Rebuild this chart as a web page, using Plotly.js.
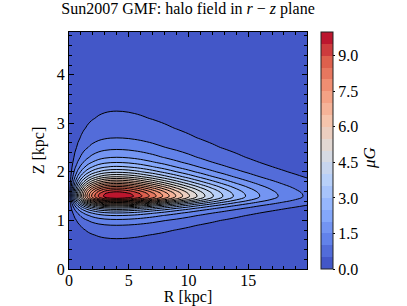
<!DOCTYPE html>
<html>
<head>
<meta charset="utf-8">
<script src="https://cdn.plot.ly/plotly-3.0.1.min.js"></script>
<style>html,body{margin:0;padding:0;background:#fff;}#chart{width:407px;height:306px;}</style>
</head>
<body>
<div id="chart"></div>
<script>
// Galactocentric radius samples [kpc]
const rValues = [0, 0.25, 0.5, 0.75, 1, 1.25, 1.5, 1.75, 2, 2.5, 3, 3.5, 4, 4.5, 5, 5.5,
  6, 7, 8, 9, 10, 11, 12, 13, 14, 15, 16, 17, 18, 19, 20];
// Relative radial profile of the halo field (peak = 1 at R ~ 4 kpc)
const radialProfile = [0, 0.160, 0.300, 0.423, 0.529, 0.622, 0.701, 0.768, 0.824, 0.909, 0.963, 0.992, 1.000, 0.993, 0.974, 0.945,
  0.910, 0.827, 0.736, 0.645, 0.558, 0.478, 0.406, 0.343, 0.287, 0.240, 0.199, 0.165, 0.136, 0.112, 0.092];
// Height samples [kpc]
const zValues = [0, 0.3, 0.5, 0.6, 0.7, 0.8, 0.9, 1.0, 1.1, 1.15, 1.2, 1.25, 1.3, 1.35, 1.375, 1.4, 1.425, 1.45, 1.475, 1.5,
  1.55, 1.6, 1.65, 1.7, 1.75, 1.8, 1.9, 2.0, 2.1, 2.2, 2.3, 2.5, 2.7, 2.9, 3.1, 3.3, 3.5, 4.0, 4.5, 5.0];
// Relative vertical profile (peak = 1 at Z ~ 1.5 kpc)
const verticalProfile = [0.0175, 0.0270, 0.0385, 0.0471, 0.0588, 0.0755, 0.100, 0.138, 0.200, 0.246, 0.308, 0.390, 0.500, 0.640, 0.719, 0.800, 0.877, 0.941, 0.985, 1.000,
  0.985, 0.941, 0.877, 0.800, 0.719, 0.640, 0.500, 0.390, 0.308, 0.246, 0.200, 0.138, 0.100, 0.0755, 0.0588, 0.0471, 0.0385, 0.0250, 0.0175, 0.0129];
// Peak field strength [muG]
const peakField = 10;
// colour levels of the map [muG]
const levelStart = 0, levelEnd = 10, levelStep = 0.5;
const colorbarTicks = [0, 1.5, 3, 4.5, 6, 7.5, 9];

// build the grid table from the profiles
const zGrid = zValues.map((_, i) => rValues.map((_, j) => peakField * verticalProfile[i] * radialProfile[j]));

// coolwarm colour map
const coolwarm = [[59,76,192],[98,130,234],[141,176,254],[184,208,249],[221,221,221],[245,196,172],[244,154,123],[222,96,77],[180,4,38]];
function cw(s) {
  const p = Math.max(0, Math.min(1, s)) * 8, i = Math.min(7, Math.floor(p)), f = p - i;
  const a = coolwarm[i], b = coolwarm[i + 1];
  return 'rgb(' + a.map((v, k) => Math.round(v + (b[k] - v) * f)).join(',') + ')';
}
const nBands = Math.round((levelEnd - levelStart) / levelStep);
// contour colorscale: band [L, L+step] coloured with coolwarm(mid/10); plotly maps t=(v-0.25)/9.5
const csContour = [];
for (let k = 0; k <= 40; k++) { const t = k / 40; const v = 0.25 + 9.5 * t; csContour.push([t, cw(v / levelEnd)]); }
// stepped colorscale for the colorbar
const csBar = [];
for (let i = 0; i < nBands; i++) { const c = cw((i + 0.5) / nBands); csBar.push([i / nBands, c]); csBar.push([(i + 1) / nBands, c]); }

const serif = 'Liberation Serif, Times New Roman, serif';
const trace = {
  type: 'contour', x: rValues, y: zValues, z: zGrid,
  colorscale: csContour, showscale: false,
  autocontour: false,
  contours: {start: levelStart + levelStep, end: levelEnd - levelStep, size: levelStep, coloring: 'fill'},
  line: {color: '#000', width: 1, smoothing: 1}
};
// colorbar holder (data lie outside the visible range)
const barTrace = {
  type: 'heatmap', x: [100, 101], y: [100, 101], z: [[levelStart, levelEnd], [levelStart, levelEnd]],
  zmin: levelStart, zmax: levelEnd, colorscale: csBar, hoverinfo: 'skip',
  colorbar: {
    x: 1.0588, xanchor: 'left', xpad: 0, ypad: 0, y: 0.5, yanchor: 'middle', len: 1, lenmode: 'fraction',
    thickness: 12, outlinewidth: 1, outlinecolor: '#222',
    tickvals: colorbarTicks, tickformat: '.1f', ticks: 'outside', ticklen: 2, tickcolor: '#000',
    tickfont: {family: serif, size: 16, color: '#000'}
  }
};
const layout = {
  width: 407, height: 306,
  margin: {l: 69, r: 100, t: 32, b: 37},
  paper_bgcolor: '#fff', plot_bgcolor: '#fff',
  title: {text: 'Sun2007 GMF: halo field in <i>r</i> − <i>z</i> plane', font: {family: serif, size: 16, color: '#000'},
    x: 0.4619, xanchor: 'center', y: 0.99, yanchor: 'top'},
  xaxis: {range: [0, 19.93], dtick: 5, tick0: 0, ticks: 'inside', ticklen: 5, tickcolor: '#000', showline: true, linecolor: '#000', linewidth: 1,
    mirror: 'allticks', showgrid: false, zeroline: false, tickfont: {family: serif, size: 16, color: '#000'}, ticklabelstandoff: -3,
    minor: {ticks: 'inside', dtick: 1, ticklen: 3, tickcolor: '#000', showgrid: false},
    title: {text: 'R [kpc]', font: {family: serif, size: 16, color: '#000'}, standoff: 4}},
  yaxis: {range: [0, 4.88], dtick: 1, tick0: 0, ticks: 'inside', ticklen: 5, tickcolor: '#000', showline: true, linecolor: '#000', linewidth: 1,
    mirror: 'allticks', showgrid: false, zeroline: false, tickfont: {family: serif, size: 16, color: '#000'},
    minor: {ticks: 'inside', dtick: 0.2, ticklen: 3, tickcolor: '#000', showgrid: false},
    title: {text: 'Z [kpc]', font: {family: serif, size: 16, color: '#000'}, standoff: 8}},
  annotations: [{text: '<i>μG</i>', xref: 'paper', yref: 'paper', x: 1.262, xanchor: 'center', y: 0.47, yanchor: 'middle', textangle: -90, showarrow: false,
    font: {family: serif, size: 17, color: '#000'}}],
  showlegend: false
};
Plotly.newPlot('chart', [trace, barTrace], layout, {staticPlot: true, displayModeBar: false});
</script>
</body>
</html>
